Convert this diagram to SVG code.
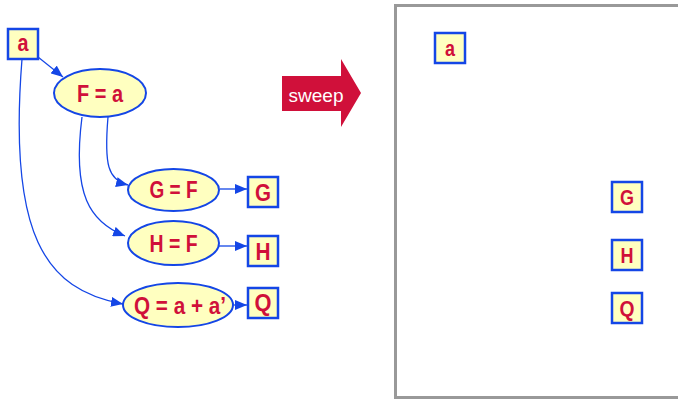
<svg xmlns="http://www.w3.org/2000/svg" width="678" height="401" viewBox="0 0 678 401">
  <style>
    .box { fill: #FFFFC0; stroke: #1446E6; stroke-width: 2.5; }
    .ell { fill: #FFFFC0; stroke: #1446E6; stroke-width: 2; }
    .lbl { font-family: "Liberation Sans", Arial, sans-serif; font-weight: bold; fill: #D0103A; text-anchor: middle; }
    .edge { fill: none; stroke: #1446E6; stroke-width: 1.3; marker-end: url(#arrow); }
  </style>
  <defs>
    <marker id="arrow" viewBox="0 0 12 10" refX="12" refY="5" markerWidth="12" markerHeight="10" markerUnits="userSpaceOnUse" orient="auto">
      <path d="M0,0 L12,5 L0,10 z" fill="#1446E6"/>
    </marker>
  </defs>
  <rect width="678" height="401" fill="#FFFFFF"/>

  <!-- left graph: nodes -->
  <g id="a"><rect class="box" x="8" y="29" width="30" height="30"/><text class="lbl" x="23" y="51" font-size="24" textLength="11" lengthAdjust="spacingAndGlyphs">a</text></g>
  <g id="F"><ellipse class="ell" cx="100" cy="93" rx="46" ry="24"/><text class="lbl" x="100" y="102" font-size="24" textLength="46" lengthAdjust="spacingAndGlyphs">F = a</text></g>
  <g id="GF"><ellipse class="ell" cx="173.5" cy="190" rx="45.5" ry="21"/><text class="lbl" x="173.5" y="198" font-size="24" textLength="48" lengthAdjust="spacingAndGlyphs">G = F</text></g>
  <g id="HF"><ellipse class="ell" cx="173.5" cy="243" rx="45.5" ry="22"/><text class="lbl" x="173.5" y="252" font-size="24" textLength="48" lengthAdjust="spacingAndGlyphs">H = F</text></g>
  <g id="QF"><ellipse class="ell" cx="178" cy="305" rx="55" ry="22"/><text class="lbl" x="180" y="314" font-size="24" textLength="92" lengthAdjust="spacingAndGlyphs">Q = a + a’</text></g>
  <g id="G"><rect class="box" x="248" y="177" width="30" height="30"/><text class="lbl" x="263" y="201" font-size="24" textLength="16" lengthAdjust="spacingAndGlyphs">G</text></g>
  <g id="H"><rect class="box" x="248" y="236" width="30" height="30"/><text class="lbl" x="263" y="260" font-size="24" textLength="15" lengthAdjust="spacingAndGlyphs">H</text></g>
  <g id="Q"><rect class="box" x="248" y="288" width="30" height="30"/><text class="lbl" x="263" y="311" font-size="24" textLength="17" lengthAdjust="spacingAndGlyphs">Q</text></g>

  <!-- left graph: connectors -->
  <g id="edges">
    <path class="edge" d="M38,57 L63,77"/>
    <path class="edge" d="M108,117 C104,165 108,180 128,185"/>
    <path class="edge" d="M82,117 C72,195 90,222 125,236"/>
    <path class="edge" d="M22,59 C8,235 45,290 123,304"/>
    <path class="edge" d="M220,189 L247,189"/>
    <path class="edge" d="M219,246 L247,246"/>
    <path class="edge" d="M234,305 L247,305"/>
  </g>

  <!-- sweep arrow -->
  <g id="sweep">
    <path d="M282,76 L341,76 L341,59 L361,93 L341,127 L341,111 L282,111 z" fill="#D0103A"/>
    <text x="316" y="102" font-family="Liberation Sans, Arial, sans-serif" font-size="19" fill="#FFFFFF" text-anchor="middle">sweep</text>
  </g>

  <!-- right panel -->
  <rect x="395.5" y="5.5" width="290" height="392" fill="#FFFFFF" stroke="#999999" stroke-width="3"/>
  <g id="a2"><rect class="box" x="435" y="33" width="30" height="30"/><text class="lbl" x="450" y="56" font-size="22" textLength="10" lengthAdjust="spacingAndGlyphs">a</text></g>
  <g id="G2"><rect class="box" x="612" y="182" width="30" height="30"/><text class="lbl" x="627" y="205" font-size="22" textLength="14" lengthAdjust="spacingAndGlyphs">G</text></g>
  <g id="H2"><rect class="box" x="612" y="240" width="30" height="30"/><text class="lbl" x="627" y="263" font-size="22" textLength="13" lengthAdjust="spacingAndGlyphs">H</text></g>
  <g id="Q2"><rect class="box" x="612" y="293" width="30" height="30"/><text class="lbl" x="627" y="316" font-size="22" textLength="15" lengthAdjust="spacingAndGlyphs">Q</text></g>
</svg>
